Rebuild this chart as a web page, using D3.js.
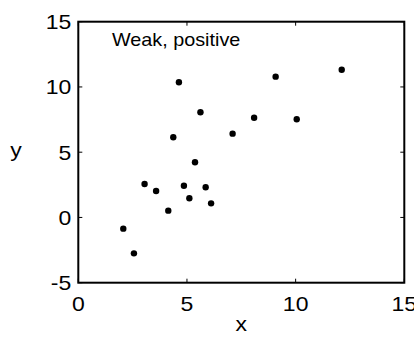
<!DOCTYPE html>
<html><head><meta charset="utf-8">
<script src="https://cdn.jsdelivr.net/npm/d3@7"></script>
<style>body{margin:0;background:#fff}svg{display:block}text{font-family:"Liberation Sans",Arial,sans-serif;fill:#000}</style>
</head><body>
<script>
const xValues = [2.07, 2.56, 3.05, 3.58, 4.14, 4.37, 4.63, 4.86, 5.11, 5.37, 5.62, 5.86, 6.11, 7.10, 8.09, 9.08, 10.05, 12.12];
const yValues = [-0.86, -2.75, 2.56, 2.03, 0.52, 6.14, 10.36, 2.43, 1.47, 4.23, 8.06, 2.31, 1.08, 6.42, 7.64, 10.79, 7.52, 11.32];
const xTicks = [0, 5, 10, 15];
const yTicks = [-5, 0, 5, 10, 15];
const title = "Weak, positive";
const xLabel = "x", yLabel = "y";

const W = 414, H = 343;
const m = {left: 78.3, right: W - 404.3, top: 21.7, bottom: H - 282.7};
const svg = d3.select("body").append("svg").attr("width", W).attr("height", H);
const x = d3.scaleLinear().domain([0, 15]).range([m.left, W - m.right]);
const y = d3.scaleLinear().domain([-5, 15]).range([H - m.bottom, m.top]);

const fs = 20;
const g = svg.append("g");
// box
g.append("rect").attr("x", x(0)).attr("y", y(15)).attr("width", x(15) - x(0)).attr("height", y(-5) - y(15))
  .attr("fill", "none").attr("stroke", "#000").attr("stroke-width", 2);
const tl = 4;
// x ticks bottom & top
xTicks.forEach(t => {
  g.append("line").attr("x1", x(t)).attr("x2", x(t)).attr("y1", y(-5)).attr("y2", y(-5) - tl).attr("stroke", "#000").attr("stroke-width", 1);
  g.append("line").attr("x1", x(t)).attr("x2", x(t)).attr("y1", y(15)).attr("y2", y(15) + tl).attr("stroke", "#000").attr("stroke-width", 1);
  g.append("text").attr("x", x(t)).attr("y", y(-5) + 28).attr("text-anchor", "middle")
    .attr("font-size", fs).attr("transform", `translate(${x(t)},0) scale(1.15,1) translate(${-x(t)},0)`).text(t);
});
yTicks.forEach(t => {
  g.append("line").attr("x1", x(0)).attr("x2", x(0) + tl).attr("y1", y(t)).attr("y2", y(t)).attr("stroke", "#000").attr("stroke-width", 1);
  g.append("line").attr("x1", x(15)).attr("x2", x(15) - tl).attr("y1", y(t)).attr("y2", y(t)).attr("stroke", "#000").attr("stroke-width", 1);
  g.append("text").attr("x", x(0) - 7).attr("y", y(t) + 7.5).attr("text-anchor", "end")
    .attr("font-size", fs).attr("transform", `translate(${x(0) - 7},0) scale(1.15,1) translate(${-(x(0) - 7)},0)`).text(t);
});
// labels
svg.append("text").attr("x", x(7.5)).attr("y", 331).attr("text-anchor", "middle").attr("font-size", fs)
  .attr("transform", `translate(${x(7.5)},0) scale(1.15,1) translate(${-x(7.5)},0)`).text(xLabel);
svg.append("text").attr("x", 16).attr("y", 157).attr("text-anchor", "middle").attr("font-size", fs)
  .attr("transform", `translate(16,0) scale(1.15,1) translate(-16,0)`).text(yLabel);
svg.append("text").attr("x", 112).attr("y", 45.7).attr("font-size", 18)
  .attr("transform", `translate(112,0) scale(1.1,1) translate(-112,0)`).text(title);
// points
svg.append("g").selectAll("circle").data(xValues.map((v, i) => [v, yValues[i]])).join("circle")
  .attr("cx", d => x(d[0])).attr("cy", d => y(d[1])).attr("r", 3.2).attr("fill", "#000");
</script>
</body></html>
